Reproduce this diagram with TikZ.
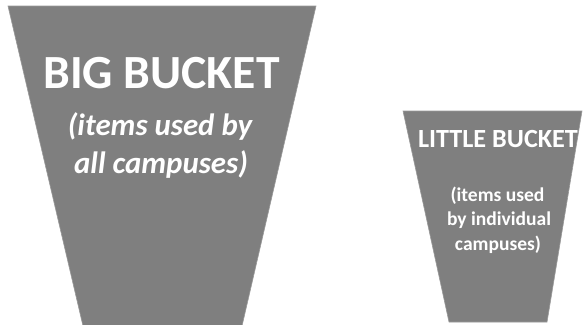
\documentclass[tikz,border=0pt]{standalone}
\usepackage{fontspec}
\setmainfont{Carlito}
\begin{document}
\begin{tikzpicture}[x=1bp,y=-1bp,
  bucket/.style={fill=bucketgray, draw=bucketgray!80!white, line width=0.6bp},
  bigtitle/.style={text=white, font=\bfseries\fontsize{47.8}{50}\selectfont, inner sep=0pt, anchor=base},
  bigsub/.style={text=white, font=\bfseries\itshape\fontsize{31}{34}\selectfont, inner sep=0pt, anchor=base},
  smalltitle/.style={text=white, font=\bfseries\fontsize{26.3}{28}\selectfont, inner sep=0pt, anchor=base},
  smallsub/.style={text=white, font=\bfseries\fontsize{19.6}{22}\selectfont, inner sep=0pt, anchor=base}]
\definecolor{bucketgray}{RGB}{127,127,127}
\useasboundingbox (0,0) rectangle (585,324);
% big bucket
\path[bucket] (8,6) -- (316,6) -- (242,326) -- (83,326) -- cycle;
% little bucket
\path[bucket] (403,111) -- (582,111) -- (547,322) -- (449,322) -- cycle;
\node[bigtitle] (bt) at (161.5,88) {BIG BUCKET};
\node[bigsub] (bs1) at (160,135) {(items used by};
\node[bigsub] (bs2) at (161,173) {all campuses)};
\node[smalltitle] (lt) at (498,147) {LITTLE BUCKET};
\node[smallsub] (ls1) at (497.5,201) {(items used};
\node[smallsub] (ls2) at (499,225) {by individual};
\node[smallsub] (ls3) at (498,250) {campuses)};
\end{tikzpicture}
\end{document}
